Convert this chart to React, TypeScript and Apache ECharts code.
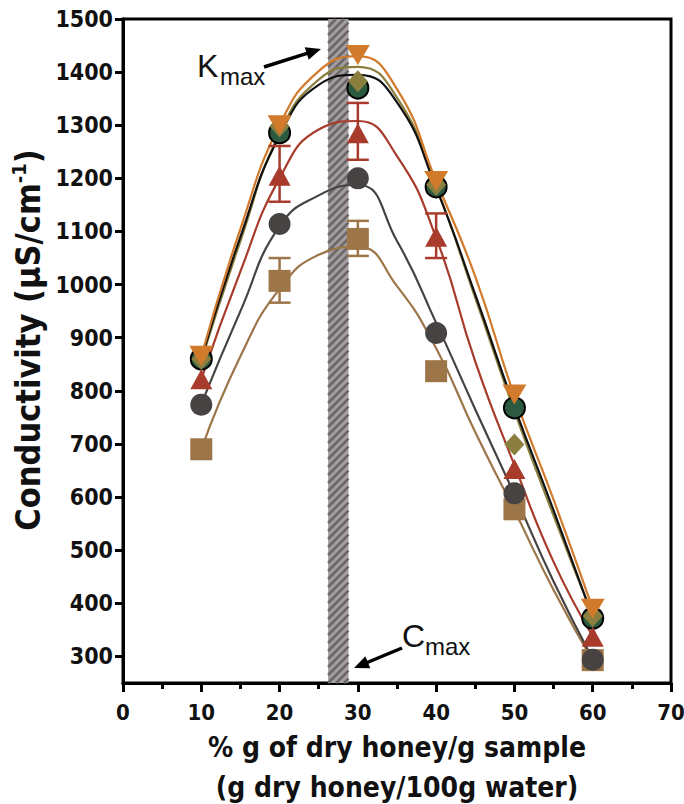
import React, { useEffect, useRef } from "react";
import * as echarts from "echarts";

// ---- data ----
const xValues = [10, 20, 30, 40, 50, 60];
const greenPts = [860, 1286, 1370, 1184, 768, 372];
const olivePts = [860, 1298, 1383, 1188, 699, 376];
const orangePts = [866, 1300, 1432, 1195, 793, 390];
const redPts = [822, 1205, 1285, 1090, 653, 337];
const darkPts = [774, 1114, 1200, 909, 607, 294];
const brownPts = [690, 1007, 1086, 837, 577, 293];

// fitted curves
const curveX = [10, 15, 20, 25, 30, 35, 40, 45, 50, 55, 60];
const orangeCurve = [865, 1105, 1300, 1402, 1430, 1368, 1195, 1015, 790, 595, 390];
const oliveCurve = [857, 1082, 1285, 1386, 1410, 1352, 1184, 975, 762, 565, 376];
const blackCurve = [860, 1090, 1280, 1376, 1395, 1343, 1182, 981, 770, 575, 374];
const redCurve = [822, 1025, 1200, 1292, 1308, 1242, 1088, 855, 660, 478, 338];
const darkCurve = [775, 950, 1110, 1168, 1188, 1082, 928, 765, 605, 441, 295];
const brownCurve = [690, 865, 992, 1056, 1071, 997, 880, 722, 575, 425, 292];

// error bars: [x, low, high]
const redErr = [
  [20, 1156, 1261],
  [30, 1235, 1342],
  [40, 1050, 1134],
];
const brownErr = [
  [20, 966, 1050],
  [30, 1054, 1120],
];

// hatched K/C max band: [xStart, xEnd]
const maxBand = [[26.2, 28.8]];

const yTickValues = [300, 400, 500, 600, 700, 800, 900, 1000, 1100, 1200, 1300, 1400, 1500];

const FONT = "'DejaVu Sans Condensed', 'Liberation Sans Narrow', 'Arial Narrow', sans-serif";
const FONT_REG = "'Liberation Sans', Arial, Helvetica, sans-serif";

const C = {
  orange: "#d27a2c",
  olive: "#8a7f3f",
  green: "#2c5a40",
  black: "#111111",
  red: "#a83b2b",
  dark: "#474342",
  brown: "#9c7549",
};

function pairs(xs: number[], ys: number[]) {
  return xs.map((x, i) => [x, ys[i]]);
}

function arrow(x1: number, y1: number, x2: number, y2: number) {
  const dx = x2 - x1;
  const dy = y2 - y1;
  const len = Math.sqrt(dx * dx + dy * dy);
  const ux = dx / len;
  const uy = dy / len;
  const hl = 15;
  const hw = 6.5;
  const bx = x2 - ux * hl;
  const by = y2 - uy * hl;
  return {
    type: "group",
    children: [
      {
        type: "line",
        shape: { x1, y1, x2: bx + ux * 2, y2: by + uy * 2 },
        style: { stroke: "#000", lineWidth: 3.5 },
      },
      {
        type: "polygon",
        shape: {
          points: [
            [x2, y2],
            [bx - uy * hw, by + ux * hw],
            [bx + uy * hw, by - ux * hw],
          ],
        },
        style: { fill: "#000" },
      },
    ],
  };
}

export default function App() {
  const ref = useRef<HTMLDivElement>(null);

  useEffect(() => {
    if (!ref.current) return;
    const chart = echarts.init(ref.current, null, { renderer: "svg" });

    const curve = (name: string, ys: number[], color: string) => ({
      name: name + " fit",
      type: "line",
      data: pairs(curveX, ys),
      smooth: 0.5,
      showSymbol: false,
      symbol: "none",
      lineStyle: { color, width: 2.2 },
      z: 3,
      silent: true,
    });

    const errSeries = (name: string, data: number[][], color: string) => ({
      name: name + " err",
      type: "custom",
      data,
      encode: { x: 0, y: [1, 2] },
      z: 4,
      silent: true,
      renderItem: (params: any, api: any) => {
        const lo = api.coord([api.value(0), api.value(1)]);
        const hi = api.coord([api.value(0), api.value(2)]);
        const cw = 11;
        const st = { stroke: color, lineWidth: 2.5 };
        return {
          type: "group",
          children: [
            { type: "line", shape: { x1: lo[0], y1: lo[1], x2: hi[0], y2: hi[1] }, style: st },
            { type: "line", shape: { x1: lo[0] - cw, y1: lo[1], x2: lo[0] + cw, y2: lo[1] }, style: st },
            { type: "line", shape: { x1: hi[0] - cw, y1: hi[1], x2: hi[0] + cw, y2: hi[1] }, style: st },
          ],
        };
      },
    });

    const pts = (name: string, ys: number[], extra: any) => ({
      name,
      type: "scatter",
      data: pairs(xValues, ys),
      z: 5,
      ...extra,
    });

    const option: any = {
      animation: false,
      backgroundColor: "#ffffff",
      grid: {
        left: 123,
        right: 13,
        top: 19,
        bottom: 121,
        show: true,
        borderColor: "#000",
        borderWidth: 3,
        backgroundColor: "transparent",
        containLabel: false,
        outerBoundsMode: "none",
      },
      xAxis: {
        type: "value",
        min: 0,
        max: 70,
        interval: 10,
        axisLine: { show: true, onZero: false, lineStyle: { color: "#000", width: 3 } },
        axisTick: { show: true, length: 9, lineStyle: { color: "#000", width: 3 } },
        minorTick: { show: true, splitNumber: 2, length: 6, lineStyle: { color: "#000", width: 3 } },
        splitLine: { show: false },
        minorSplitLine: { show: false },
        axisLabel: {
          fontSize: 22,
          fontWeight: "bold",
          color: "#111",
          fontFamily: FONT,
          margin: 18,
        },
        name: "% g of dry honey/g sample\n(g dry honey/100g water)",
        nameLocation: "middle",
        nameGap: 44,
        nameTextStyle: {
          fontSize: 28,
          fontWeight: "bold",
          color: "#111",
          fontFamily: FONT,
          lineHeight: 40,
        },
      },
      yAxis: {
        type: "value",
        min: 250,
        max: 1500,
        axisLine: { show: true, onZero: false, lineStyle: { color: "#000", width: 3 } },
        axisTick: {
          show: true,
          length: 8,
          lineStyle: { color: "#000", width: 3 },
          customValues: yTickValues,
        },
        axisLabel: {
          customValues: yTickValues,
          formatter: (v: number) => String(v),
          fontSize: 23,
          fontWeight: "bold",
          color: "#111",
          fontFamily: FONT,
          margin: 10,
        },
        splitLine: { show: false },
        name: "{a|Conductivity (µS/cm}{s|-1}{a|)}",
        nameLocation: "middle",
        nameGap: 74,
        nameRotate: 90,
        nameTextStyle: {
          padding: [0, 0, 0, 22],
          rich: {
            a: {
              fontSize: 34,
              fontWeight: "bold",
              color: "#111",
              fontFamily: FONT,
              lineHeight: 38,
              verticalAlign: "middle",
            },
            s: {
              fontSize: 20,
              fontWeight: "bold",
              color: "#111",
              fontFamily: FONT,
              lineHeight: 14,
              verticalAlign: "top",
            },
          },
        },
      },
      series: [
        {
          name: "max band",
          type: "custom",
          data: maxBand,
          encode: { x: [0, 1] },
          z: 1,
          silent: true,
          renderItem: (params: any, api: any) => {
            const cs = params.coordSys;
            const x0 = api.coord([api.value(0), 1500])[0];
            const x1 = api.coord([api.value(1), 1500])[0];
            const top = cs.y;
            const bottom = cs.y + cs.height;
            const w = x1 - x0;
            const children: any[] = [
              {
                type: "rect",
                shape: { x: x0, y: top, width: w, height: bottom - top },
                style: { fill: "#a39d9f" },
              },
            ];
            const step = 8;
            for (let y = top; y < bottom + w; y += step) {
              const t0 = Math.max(0, (y - bottom) / w);
              const t1 = Math.min(1, (y - top) / w);
              if (t1 <= t0) continue;
              children.push({
                type: "line",
                shape: {
                  x1: x0 + t0 * w,
                  y1: y - t0 * w,
                  x2: x0 + t1 * w,
                  y2: y - t1 * w,
                },
                style: { stroke: "#6b6668", lineWidth: 2.6 },
              });
            }
            return { type: "group", children };
          },
        },
        curve("brown", brownCurve, C.brown),
        curve("dark", darkCurve, C.dark),
        curve("red", redCurve, C.red),
        curve("olive", oliveCurve, C.olive),
        curve("black", blackCurve, C.black),
        curve("orange", orangeCurve, C.orange),
        errSeries("red", redErr, C.red),
        errSeries("brown", brownErr, C.brown),
        pts("brown", brownPts, { symbol: "rect", symbolSize: 22, itemStyle: { color: C.brown, opacity: 1 } }),
        pts("dark", darkPts, { symbol: "circle", symbolSize: 22, itemStyle: { color: C.dark, opacity: 1 } }),
        pts("green", greenPts, {
          symbol: "circle",
          symbolSize: 21,
          itemStyle: { color: C.green, borderColor: "#000", borderWidth: 2, opacity: 1 },
        }),
        pts("red", redPts, { symbol: "triangle", symbolSize: [22, 20], itemStyle: { color: C.red, opacity: 1 } }),
        pts("olive", olivePts, { symbol: "diamond", symbolSize: [20, 22], itemStyle: { color: C.olive, opacity: 1 } }),
        pts("orange", orangePts, {
          symbol: "triangle",
          symbolRotate: 180,
          symbolSize: [24, 20],
          itemStyle: { color: C.orange, opacity: 1 },
        }),
      ],
      graphic: [
        {
          type: "text",
          left: 197,
          top: 50,
          style: { text: "K", fontSize: 32, fontFamily: FONT_REG, fill: "#111" },
          z: 10,
        },
        {
          type: "text",
          left: 220,
          top: 64,
          style: { text: "max", fontSize: 24, fontFamily: FONT_REG, fill: "#111" },
          z: 10,
        },
        { ...arrow(264, 67, 321, 49), z: 10 },
        {
          type: "text",
          left: 402,
          top: 620,
          style: { text: "C", fontSize: 32, fontFamily: FONT_REG, fill: "#111" },
          z: 10,
        },
        {
          type: "text",
          left: 425,
          top: 634,
          style: { text: "max", fontSize: 24, fontFamily: FONT_REG, fill: "#111" },
          z: 10,
        },
        { ...arrow(402, 648, 354, 668), z: 10 },
      ],
    };

    chart.setOption(option);
    return () => chart.dispose();
  }, []);

  return (
    <div
      ref={ref}
      style={{ position: "absolute", left: 0, top: 0, width: 684, height: 804, background: "#fff" }}
    />
  );
}
